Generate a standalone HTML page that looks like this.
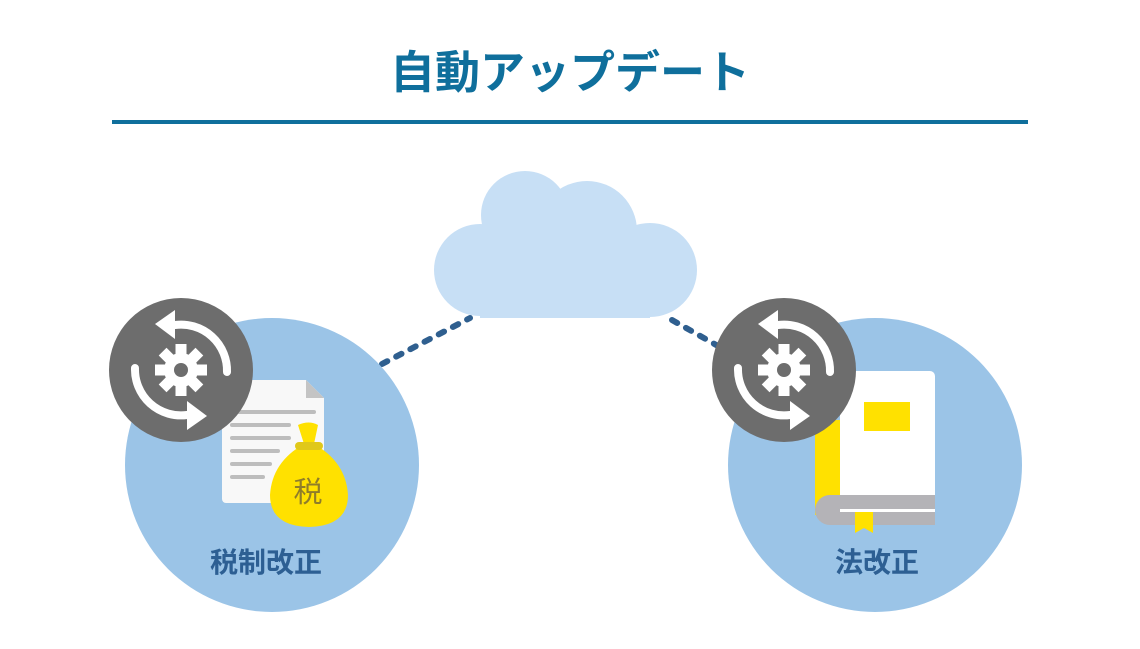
<!DOCTYPE html>
<html><head><meta charset="utf-8"><style>
body{margin:0;width:1140px;height:644px;background:#fff;overflow:hidden;font-family:"Liberation Sans","Noto Sans CJK JP",sans-serif}
</style></head><body>
<svg width="1140" height="644" viewBox="0 0 1140 644" xmlns="http://www.w3.org/2000/svg">
<defs>
<g id="sync">
<circle cx="0" cy="0" r="72" fill="#6d6d6d"/>
<path d="M-6,-45 A46,46 0 0 1 46,2" fill="none" stroke="#fff" stroke-width="8" stroke-linecap="round"/>
<polygon points="-26,-46 -6,-60 -6,-31" fill="#fff"/>
<path d="M-46,-2 A46,46 0 0 0 6,45" fill="none" stroke="#fff" stroke-width="8" stroke-linecap="round"/>
<polygon points="26,46 6,31 6,60" fill="#fff"/>
<g fill="#fff">
<circle cx="0" cy="0" r="17"/>
<rect x="-5.5" y="-26" width="11" height="52"/>
<rect x="-5.5" y="-26" width="11" height="52" transform="rotate(45)"/>
<rect x="-5.5" y="-26" width="11" height="52" transform="rotate(90)"/>
<rect x="-5.5" y="-26" width="11" height="52" transform="rotate(135)"/>
</g>
<circle cx="0" cy="0" r="7" fill="#6d6d6d"/>
</g>
</defs>
<text x="570" y="88" text-anchor="middle" font-size="45" font-weight="bold" fill="#0f6f9c" font-family="Liberation Sans,Noto Sans CJK JP,sans-serif">自動アップデート</text>
<rect x="112" y="120" width="916" height="4" fill="#0f6f9c"/>
<g fill="#c7dff5">
<circle cx="480" cy="270" r="46"/>
<circle cx="525" cy="215" r="44"/>
<circle cx="587" cy="231" r="50"/>
<circle cx="650" cy="270" r="47"/>
<rect x="480" y="230" width="170" height="88"/>
</g>
<line x1="382" y1="364" x2="470" y2="318" stroke="#2f5f8f" stroke-width="6" stroke-linecap="round" stroke-dasharray="6,10"/>
<line x1="672" y1="320" x2="718" y2="346" stroke="#2f5f8f" stroke-width="6" stroke-linecap="round" stroke-dasharray="6,10"/>
<circle cx="272" cy="465" r="147" fill="#9bc4e7"/>
<path d="M226,380 H306 L324,398 V499 a4,4 0 0 1 -4,4 H226 a4,4 0 0 1 -4,-4 V384 a4,4 0 0 1 4,-4z" fill="#f8f8f8"/>
<polygon points="306,380 324,398 306,398" fill="#c4c4c4"/>
<g stroke="#bdbdbd" stroke-width="4" stroke-linecap="round">
<line x1="232" y1="412" x2="314" y2="412"/>
<line x1="232" y1="425" x2="289" y2="425"/>
<line x1="232" y1="438" x2="289" y2="438"/>
<line x1="232" y1="451" x2="278" y2="451"/>
<line x1="232" y1="464" x2="270" y2="464"/>
<line x1="232" y1="477" x2="263" y2="477"/>
</g>
<path d="M298,425 Q309,420 318,425 L314,444 Q346,462 348,495 Q348,526 309,527 Q270,526 270,495 Q272,462 304,444z" fill="#ffe100"/>
<rect x="295" y="442" width="28" height="8" rx="4" fill="#e0c81a"/>
<text x="308" y="502" text-anchor="middle" font-size="29" fill="#8f7d2a">税</text>
<text x="266" y="572" text-anchor="middle" font-size="28" font-weight="bold" fill="#2d5f93">税制改正</text>
<use href="#sync" x="181" y="370"/>
<circle cx="875" cy="465" r="147" fill="#9bc4e7"/>
<rect x="815" y="420" width="30" height="95" fill="#ffe100"/>
<path d="M840,371 H930 a5,5 0 0 1 5,5 V520 H840z" fill="#fff"/>
<rect x="864" y="402" width="46" height="29" fill="#ffe100"/>
<path d="M830,495 H935 V525 H830 a15,15 0 0 1 0,-30z" fill="#b4b3b7"/>
<rect x="840" y="509" width="95" height="3" fill="#fff"/>
<polygon points="855,512 873,512 873,533 864,528 855,533" fill="#ffe100"/>
<text x="877" y="572" text-anchor="middle" font-size="28" font-weight="bold" fill="#2d5f93">法改正</text>
<use href="#sync" x="784" y="370"/>
</svg>
</body></html>
